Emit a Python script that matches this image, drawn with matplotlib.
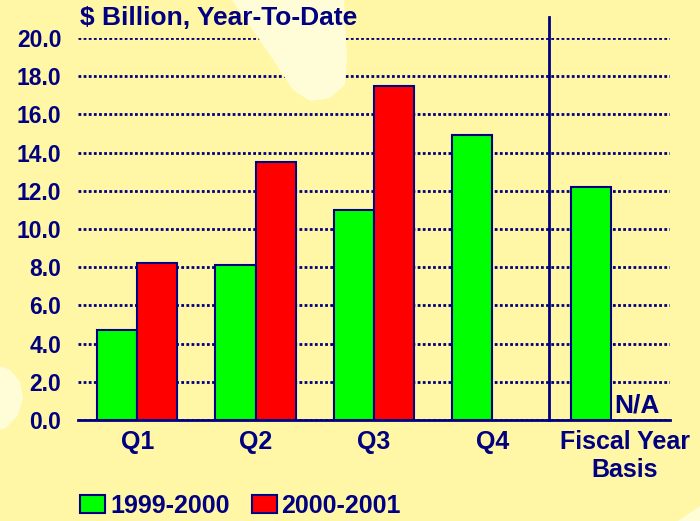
import numpy as np
import matplotlib.pyplot as plt
from matplotlib.patches import Polygon

# Data
categories = ['Q1', 'Q2', 'Q3', 'Q4', 'Fiscal Year\nBasis']
fy_1999_2000 = [4.7, 8.1, 11.0, 14.9, 12.2]
fy_2000_2001 = [8.2, 13.5, 17.5]
series_labels = ['1999-2000', '2000-2001']
yticks = [0, 2, 4, 6, 8, 10, 12, 14, 16, 18, 20]

navy = '#000080'
bg = '#FFF7A6'
light = '#FFFDD8'

plt.rcParams['font.family'] = ['Liberation Sans', 'DejaVu Sans']
plt.rcParams['font.weight'] = 'bold'

fig = plt.figure(figsize=(7, 5.21), dpi=100, facecolor=bg)

# light background blobs (decoration)
W, H = 700, 521
def px(pts):
    return [(x / W, 1 - y / H) for x, y in pts]
for pts in [[(232, 0), (344, 0), (347, 60), (345, 85), (330, 98), (310, 101), (293, 90), (270, 55)],
            [(0, 366), (10, 370), (20, 382), (23, 398), (18, 415), (6, 428), (0, 430)],
            [(678, 521), (700, 521), (700, 506)]]:
    fig.patches.append(Polygon(px(pts), closed=True, transform=fig.transFigure,
                               facecolor=light, edgecolor='none', zorder=0))

ax = fig.add_axes([78 / W, 1 - 420 / H, (670 - 78) / W, (420 - 38) / H])
ax.set_facecolor('none')

x = np.arange(len(categories))
w = 0.34
ax.bar(x - w / 2, fy_1999_2000, w, color='#00FF00', edgecolor=navy, linewidth=1.5, zorder=3,
       label=series_labels[0])
ax.bar(x[:len(fy_2000_2001)] + w / 2, fy_2000_2001, w, color='#FF0000', edgecolor=navy, linewidth=1.5,
       zorder=3, label=series_labels[1])

ax.set_xlim(-0.5, 4.5)
ax.set_ylim(0, 20)
ax.set_yticks(yticks)
ax.set_yticklabels([f'{v:.1f}' for v in yticks], fontsize=16.5, color=navy, fontweight='bold')
ax.yaxis.grid(True, color=navy, linestyle=(0, (1, 0.85)), linewidth=2)
ax.set_axisbelow(True)
ax.tick_params(axis='y', length=0, pad=12)
ax.tick_params(axis='x', length=0, pad=7)
ax.set_xticks([0, 1, 2, 3, 4.12])
ax.set_xticklabels(categories, fontsize=18, color=navy, fontweight='bold', linespacing=1.2)

for s in ['top', 'right', 'left']:
    ax.spines[s].set_visible(False)
ax.spines['bottom'].set_color(navy)
ax.spines['bottom'].set_linewidth(2)

# divider between quarters and fiscal year
ax.plot([3.48, 3.48], [0, 21.1], color=navy, linewidth=2, clip_on=False, zorder=4)

ax.text(4.03, 0.15, 'N/A', fontsize=19, color=navy, fontweight='bold', ha='left', va='bottom', zorder=5)

fig.text(80 / W, 1 - 18 / H, '$ Billion, Year-To-Date', fontsize=19, color=navy, fontweight='bold',
         ha='left', va='center')

leg = fig.legend(loc='lower left', bbox_to_anchor=(80 / W, 3 / H), ncol=2, frameon=False,
                 fontsize=18, handlelength=1.0, handleheight=0.75, handletextpad=0.2,
                 columnspacing=0.88, borderaxespad=0, borderpad=0)
for t in leg.get_texts():
    t.set_color(navy)
    t.set_fontweight('bold')

fig.savefig('out.png', dpi=100, facecolor=bg)
